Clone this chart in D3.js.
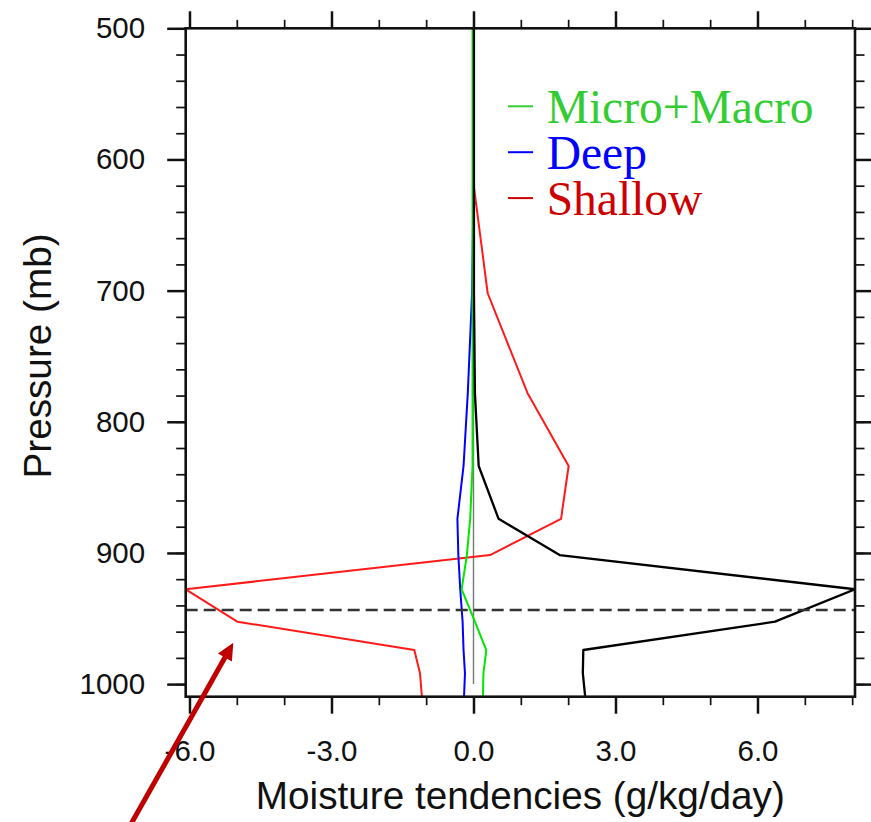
<!DOCTYPE html>
<html>
<head>
<meta charset="utf-8">
<script src="https://cdn.jsdelivr.net/npm/d3@7"></script>
<style>
  html, body { margin: 0; padding: 0; background: #fff; }
  svg { display: block; }
</style>
</head>
<body>
<svg id="chart" width="871" height="822"></svg>
<script>
// Model levels (mb) and moisture tendency profiles (g/kg/day)
const levels     = [1009.6, 991.8, 974.0, 952.4, 927.7, 901.6, 874.0, 833.7, 778.0, 702.0, 621.0, 536.0, 453.0];
const microMacro = [0.20, 0.21, 0.27, 0.03, -0.25, -0.14, -0.07, -0.02, -0.02, -0.02, -0.02, -0.02, -0.02];
const deep       = [-0.20, -0.18, -0.21, -0.23, -0.28, -0.32, -0.34, -0.21, -0.12, -0.03, 0.00, 0.00, 0.00];
const shallow    = [-1.09, -1.13, -1.25, -4.99, -6.08, 0.35, 1.85, 2.01, 1.14, 0.30, 0.01, 0.00, 0.00];
const other      = [2.36, 2.31, 2.32, 6.37, 8.06, 1.82, 0.53, 0.11, 0.03, 0.01, 0.01, 0.01, 0.01];

// Boundary layer top (mb)
const pblPressure = [943.5];

// Axis ticks
const xMajorTicks = [-6, -3, 0, 3, 6];
const xMinorTicks = d3.range(-6, 9, 1);
const yMajorTicks = [500, 600, 700, 800, 900, 1000];
const yMinorTicks = d3.range(500, 1001, 20);
const pressureTop = 500;
const zeroLineBottom = 1000;

const legendNames  = ["Micro+Macro", "Deep", "Shallow"];
const legendColors = ["#33cc33", "#0000ff", "#cc0000"];

// drawn bottom to top
const series = [
  { name: "shallow", values: shallow,    color: "#ff1a1a", width: 2 },
  { name: "deep",    values: deep,       color: "#0000ff", width: 2 },
  { name: "micro",   values: microMacro, color: "#00e600", width: 2 },
  { name: "other",   values: other,      color: "#000000", width: 2.3 }
];

const svg = d3.select("#chart");
const margin = { left: 185.7, right: 871 - 855, top: 28.3, bottom: 822 - 696.7 };
const W = 871 - margin.left - margin.right;
const H = 822 - margin.top - margin.bottom;

const allValues = [].concat(microMacro, deep, shallow, other);
const x = d3.scaleLinear().domain(d3.extent(allValues)).range([0, W]);
const y = d3.scaleLinear().domain([pressureTop, d3.max(levels)]).range([0, H]);

const g = svg.append("g").attr("transform", `translate(${margin.left},${margin.top})`);

g.append("clipPath").attr("id", "plotClip")
  .append("rect").attr("x", 0).attr("y", 0).attr("width", W).attr("height", H);

const plot = g.append("g").attr("clip-path", "url(#plotClip)");

// zero reference line
plot.append("line")
  .attr("x1", x(0)).attr("x2", x(0))
  .attr("y1", y(pressureTop)).attr("y2", y(zeroLineBottom))
  .attr("stroke", "#777").attr("stroke-width", 1.4);

const line = d3.line()
  .x(d => x(d[0]))
  .y(d => y(d[1]));

series.forEach(s => {
  plot.append("path")
    .datum(s.values.map((v, i) => [v, levels[i]]))
    .attr("fill", "none")
    .attr("stroke", s.color)
    .attr("stroke-width", s.width)
    .attr("stroke-linejoin", "round")
    .attr("d", line);
});

// boundary layer top
plot.selectAll(".pbl").data(pblPressure).enter().append("line")
  .attr("x1", 0).attr("x2", W)
  .attr("y1", d => y(d)).attr("y2", d => y(d))
  .attr("stroke", "#333").attr("stroke-width", 2.3)
  .attr("stroke-dasharray", "12,6");

// axes
function styleAxis(sel, width) {
  sel.select(".domain").remove();
  sel.selectAll(".tick line").attr("stroke", "#111").attr("stroke-width", width);
}
const fmtX = d => d.toFixed(1);

const xBottomMinor = g.append("g").attr("transform", `translate(0,${H})`)
  .call(d3.axisBottom(x).tickValues(xMinorTicks).tickSize(8.5).tickFormat(""));
styleAxis(xBottomMinor, 1.7);
const xBottom = g.append("g").attr("transform", `translate(0,${H})`)
  .call(d3.axisBottom(x).tickValues(xMajorTicks).tickSize(17).tickPadding(26).tickFormat(fmtX));
styleAxis(xBottom, 2.5);

const xTopMinor = g.append("g")
  .call(d3.axisTop(x).tickValues(xMinorTicks).tickSize(8.5).tickFormat(""));
styleAxis(xTopMinor, 1.7);
const xTop = g.append("g")
  .call(d3.axisTop(x).tickValues(xMajorTicks).tickSize(17).tickFormat(""));
styleAxis(xTop, 2.5);

const yLeftMinor = g.append("g")
  .call(d3.axisLeft(y).tickValues(yMinorTicks).tickSize(9.5).tickFormat(""));
styleAxis(yLeftMinor, 1.7);
const yLeft = g.append("g")
  .call(d3.axisLeft(y).tickValues(yMajorTicks).tickSize(18.5).tickPadding(22).tickFormat(d3.format("d")));
styleAxis(yLeft, 2.5);

const yRightMinor = g.append("g").attr("transform", `translate(${W},0)`)
  .call(d3.axisRight(y).tickValues(yMinorTicks).tickSize(9.5).tickFormat(""));
styleAxis(yRightMinor, 1.7);
const yRight = g.append("g").attr("transform", `translate(${W},0)`)
  .call(d3.axisRight(y).tickValues(yMajorTicks).tickSize(16).tickFormat(""));
styleAxis(yRight, 2.5);

g.selectAll(".tick text")
  .attr("font-family", "'Liberation Sans', Arial, Helvetica, sans-serif")
  .attr("font-size", 29.5)
  .attr("fill", "#111");

// frame
g.append("rect")
  .attr("x", 0).attr("y", 0).attr("width", W).attr("height", H)
  .attr("fill", "none").attr("stroke", "#111").attr("stroke-width", 2.6);

// axis titles
svg.append("text")
  .attr("x", margin.left + W / 2).attr("y", 809)
  .attr("text-anchor", "middle")
  .attr("font-family", "'Liberation Sans', Arial, Helvetica, sans-serif")
  .attr("font-size", 38.7).attr("fill", "#111")
  .text("Moisture tendencies (g/kg/day)");

svg.append("text")
  .attr("transform", "translate(51,356) rotate(-90)")
  .attr("text-anchor", "middle")
  .attr("font-family", "'Liberation Sans', Arial, Helvetica, sans-serif")
  .attr("font-size", 38.7).attr("fill", "#111")
  .text("Pressure (mb)");

// legend
const legend = svg.append("g").attr("transform", "translate(508,123.3)");
legendNames.forEach((name, i) => {
  const row = legend.append("g").attr("transform", `translate(0,${i * 45.9})`);
  row.append("line")
    .attr("x1", 0).attr("x2", 25).attr("y1", -17).attr("y2", -17)
    .attr("stroke", legendColors[i]).attr("stroke-width", 2);
  row.append("text")
    .attr("x", 38.7).attr("y", 0)
    .attr("font-family", "'Liberation Serif', 'Times New Roman', serif")
    .attr("font-size", 47.5)
    .attr("fill", legendColors[i])
    .text(name);
});

// annotation arrow pointing at the shallow-convection drying
const arrowTail = [124.8, 835];
const arrowTip = [233.3, 642.7];
const dx = arrowTip[0] - arrowTail[0], dy = arrowTip[1] - arrowTail[1];
const len = Math.hypot(dx, dy);
const ux = dx / len, uy = dy / len;
const headLen = 17, headHalf = 8;
const base = [arrowTip[0] - ux * headLen, arrowTip[1] - uy * headLen];
svg.append("line")
  .attr("x1", arrowTail[0]).attr("y1", arrowTail[1])
  .attr("x2", base[0] + ux * 2).attr("y2", base[1] + uy * 2)
  .attr("stroke", "#c00000").attr("stroke-width", 5);
svg.append("path")
  .attr("d", d3.line()([
    arrowTip,
    [base[0] - uy * headHalf, base[1] + ux * headHalf],
    [base[0] + uy * headHalf, base[1] - ux * headHalf]
  ]) + "Z")
  .attr("fill", "#c00000");
</script>
</body>
</html>
